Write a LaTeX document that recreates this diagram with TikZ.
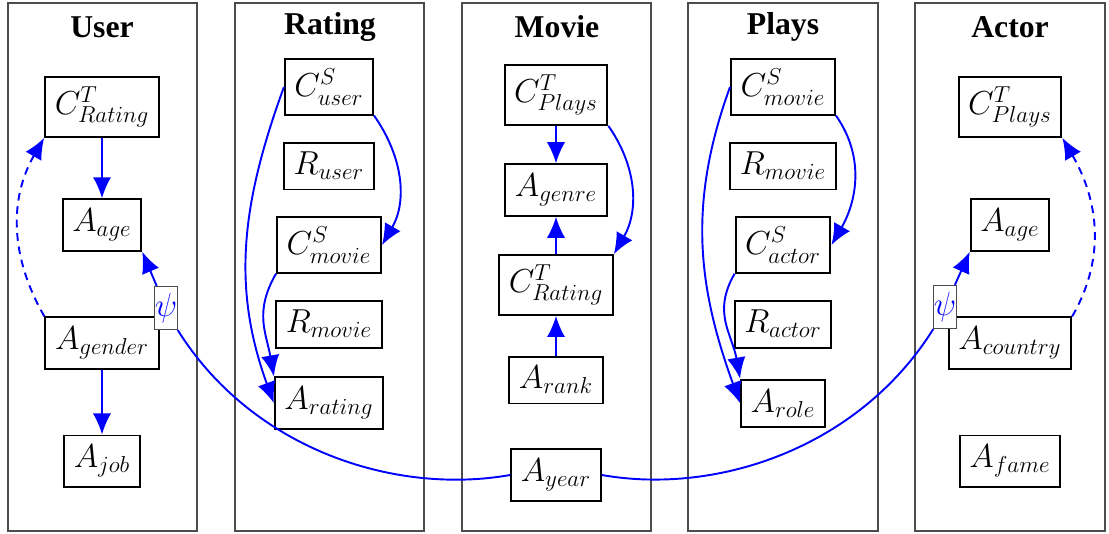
\documentclass[tikz,border=0pt]{standalone}
\usepackage{fontspec}
\setmainfont{Liberation Serif}
\usetikzlibrary{positioning, arrows.meta}

\tikzset{
  attr/.style={rectangle, draw, line width=1pt, font=\LARGE, inner sep=5pt},
  tablebox/.style={draw=black!70, line width=0.6pt},
  tname/.style={font=\fontsize{16.5}{19}\selectfont\bfseries},
  link/.style={blue, line width=1pt},
  dep/.style={link, -{Latex[length=11pt,width=9.5pt]}},
  psibox/.style={rectangle, draw=black!70, line width=0.6pt, fill=white, text=blue, font=\LARGE, inner xsep=0pt, inner ysep=3.5pt}
}

\begin{document}
\begin{tikzpicture}[x=0.52pt, y=0.52pt]
    \useasboundingbox (0,0) rectangle (1109,533);

    % Tables
    \draw[tablebox] (8,2) rectangle (197,530);
    \draw[tablebox] (235,2) rectangle (424,530);
    \draw[tablebox] (462,2) rectangle (651,530);
    \draw[tablebox] (688,2) rectangle (878,530);
    \draw[tablebox] (915,2) rectangle (1105,530);
    \node (userT) [tname] at (102,506) {User};
    \node (ratingT) [tname] at (330,506) {Rating};
    \node (movieT) [tname] at (557,506) {Movie};
    \node (playsT) [tname] at (783,506) {Plays};
    \node (actorT) [tname] at (1010,506) {Actor};

    % Nodes
    \begin{scope}[node distance=61.4pt]
        \node (crU) [attr] at (102,426) {$C^T_{Rating}$};
        \node (ageU) [attr, below of=crU] {$A_{age}$};
        \node (genderU) [attr, below of=ageU] {$A_{gender}$};
        \node (jobU) [attr, below of=genderU] {$A_{job}$};
    \end{scope}
    \begin{scope}[node distance=41.1pt]
        \node (cuR) [attr] at (329,446) {$C^S_{user}$};
        \node (ruR) [attr, below of=cuR] {$R_{user}$};
        \node (cmR) [attr, below of=ruR] {$C^S_{movie}$};
        \node (rmR) [attr, below of=cmR] {$R_{movie}$};
        \node (raR) [attr, below of=rmR] {$A_{rating}$};
    \end{scope}
    \begin{scope}[node distance=49.4pt]
        \node (cpM) [attr] at (556,438) {$C^T_{Plays}$};
        \node (geM) [attr, below of=cpM] {$A_{genre}$};
        \node (crM) [attr, below of=geM] {$C^T_{Rating}$};
        \node (rkM) [attr, below of=crM] {$A_{rank}$};
        \node (yearM) [attr, below of=rkM] {$A_{year}$};
    \end{scope}
    \begin{scope}[node distance=41.1pt]
        \node (cmP) [attr] at (783,446) {$C^S_{movie}$};
        \node (rmP) [attr, below of=cmP] {$R_{movie}$};
        \node (caP) [attr, below of=rmP] {$C^S_{actor}$};
        \node (raP) [attr, below of=caP] {$R_{actor}$};
        \node (roP) [attr, below of=raP] {$A_{role}$};
    \end{scope}
    \begin{scope}[node distance=61.4pt]
        \node (cpA) [attr] at (1010,426) {$C^T_{Plays}$};
        \node (ageA) [attr, below of=cpA] {$A_{age}$};
        \node (coA) [attr, below of=ageA] {$A_{country}$};
        \node (faA) [attr, below of=coA] {$A_{fame}$};
    \end{scope}
    \node (psiU) [psibox] at (166,225) {$\psi$};
    \node (psiA) [psibox] at (945,226) {$\psi$};

    % Arrows
    \draw[dep] (crU) -- (ageU);
    \draw[dep] (genderU) -- (jobU);
    \draw[dep, dash pattern=on 4pt off 3pt] (genderU.north west) to[out=120, in=-120] (crU.south west);
    \draw[link] (yearM.west) to[out=190, in=-58, out looseness=0.84, in looseness=0.98] (psiU.south east);
    \draw[dep] (psiU) -- (ageU.south east);

    \draw[dep] (cuR.west) to[out=-110, in=110] (raR.west);
    \draw[dep] (cuR.south east) to[out=-55, in=60] (cmR.east);
    \draw[dep] (cmR.south west) to[out=-120, in=100, looseness=1.1] (raR.north west);

    \draw[dep] (cpM) -- (geM);
    \draw[dep] (crM) -- (geM);
    \draw[dep] (rkM) -- (crM);
    \draw[dep] (cpM.south east) to[out=-55, in=60] (crM.north east);

    \draw[dep] (cmP.west) to[out=-110, in=110] (roP.west);
    \draw[dep] (cmP.south east) to[out=-55, in=60] (caP.east);
    \draw[dep] (caP.south west) to[out=-120, in=100, looseness=1.1] (roP.north west);

    \draw[dep, dash pattern=on 4pt off 3pt] (coA.north east) to[out=60, in=-60] (cpA.south east);
    \draw[link] (yearM.east) to[out=-10, in=-122, out looseness=0.84, in looseness=0.98] (psiA.south west);
    \draw[dep] (psiA) -- (ageA.south west);
\end{tikzpicture}
\end{document}
